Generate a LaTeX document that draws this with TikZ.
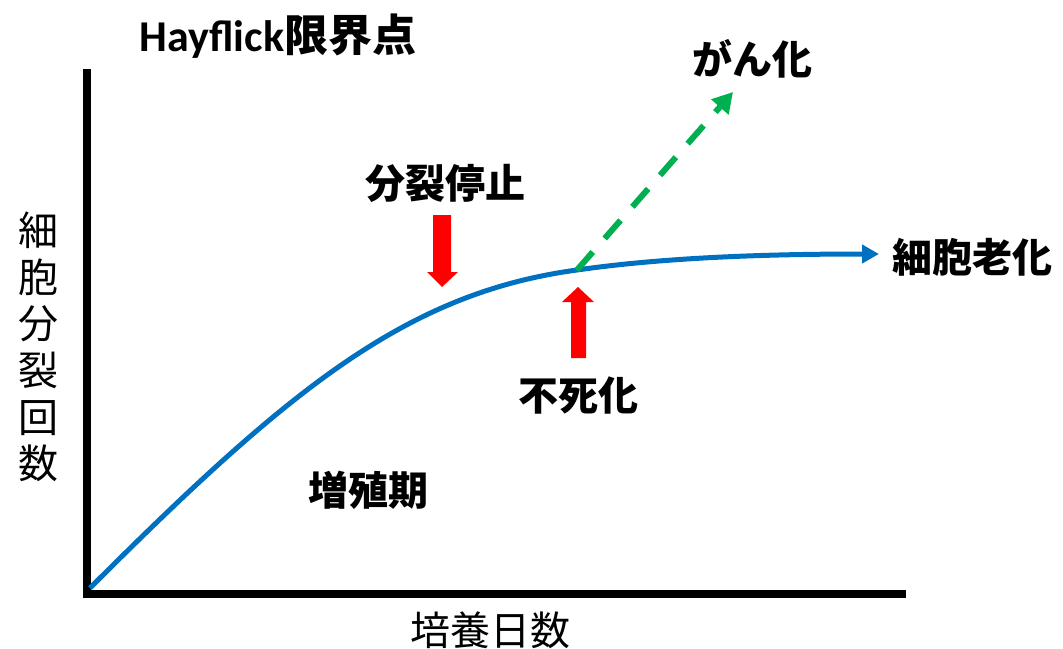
\documentclass[tikz,border=0pt]{standalone}
\usepackage{fontspec}
\setmainfont{Carlito}
\newfontfamily\jp{Noto Sans CJK JP}
\usetikzlibrary{arrows.meta}
\definecolor{curveblue}{HTML}{0070C0}
\definecolor{cgreen}{HTML}{00B050}
\definecolor{ared}{HTML}{FF0000}
\begin{document}
\begin{tikzpicture}[x=1pt,y=-1pt,
  lbl/.style={font=\fontsize{40}{48}\selectfont\jp\bfseries, inner sep=0pt},
  plain/.style={font=\fontsize{40}{48}\selectfont\jp, inner sep=0pt},
  axis/.style={line width=8pt, black, line cap=rect},
  curve/.style={line width=5pt, curveblue, -{Triangle[length=17pt,width=18pt]}},
  cancer/.style={line width=6pt, cgreen, dash pattern=on 24pt off 18pt, -{Triangle[length=20pt,width=22pt]}},
  blockarrow/.style={fill=ared, draw=none}]
\path[use as bounding box] (0,0) rectangle (1063,648);
% axes
\coordinate (ytop) at (87,73);
\coordinate (orig) at (87,594);
\coordinate (xend) at (902,594);
\draw[axis] (ytop) -- (orig) -- (xend);
% curve
\coordinate (o) at (90,588);
\coordinate (imm) at (577,270);
\coordinate (cend) at (879,254);
\coordinate (gtip) at (733,92);
\draw[curve] (o) .. controls (290,388) and (407,293) .. (imm)
  .. controls (660,258) and (760,254) .. (cend);
\draw[cancer] (imm) -- (gtip);
% red block arrows
\fill[blockarrow] (433,215) -- (451,215) -- (451,272) -- (458,272) -- (442,287) -- (427,272) -- (433,272) -- cycle;
\fill[blockarrow] (571,358) -- (586,358) -- (586,302) -- (594,302) -- (578,287) -- (562,302) -- (571,302) -- cycle;
% labels
\node[inner sep=0pt, font=\fontsize{44}{52}\selectfont\bfseries] (title) at (278,36) {Hayflick{\jp 限界点}};
\node[lbl] (gan) at (752,59) {がん化};
\node[lbl] (senes) at (972,257) {細胞老化};
\node[lbl] (stop) at (445,183) {分裂停止};
\node[lbl] (immort) at (578,395) {不死化};
\node[lbl] (prolif) at (368,490) {増殖期};
\node[plain] (xlab) at (490,630) {培養日数};
\node[inner sep=0pt, align=center, font=\fontsize{40}{46.7}\selectfont\jp] (ylab) at (38,347) {細\\胞\\分\\裂\\回\\数};
\end{tikzpicture}
\end{document}
